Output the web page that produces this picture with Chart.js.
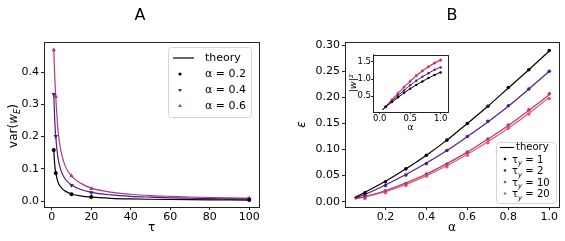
<!DOCTYPE html>
<html><head><meta charset="utf-8">
<script src="https://cdn.jsdelivr.net/npm/chart.js@4.4.1/dist/chart.umd.min.js"></script>
<style>
html,body{margin:0;padding:0;background:#fff;width:565px;height:241px;overflow:hidden;}
canvas{position:absolute;display:block;}
</style></head><body>
<canvas id="ca" width="280" height="241" style="left:0;top:0"></canvas>
<canvas id="cb" width="285" height="241" style="left:280px;top:0"></canvas>
<canvas id="ci" width="112" height="90" style="left:340px;top:46px"></canvas>
<script>
// ---------- Panel A data ----------
const tauPoints = [1, 2, 10, 20, 100];
const varA02 = [0.158, 0.087, 0.021, 0.0125, 0.003];
const varA04 = [0.331, 0.201, 0.049, 0.026, 0.006];
const varA06 = [0.469, 0.324, 0.078, 0.0386, 0.009];
const tauTheory = [1, 1.5, 2, 3, 4, 5, 7, 10, 15, 20, 30, 40, 50, 60, 70, 80, 90, 100];
const thA02 = [0.158, 0.112, 0.088, 0.061, 0.048, 0.040, 0.030, 0.022, 0.0155, 0.0121, 0.0085, 0.0066, 0.0055, 0.0047, 0.0041, 0.0036, 0.0033, 0.0030];
const thA04 = [0.331, 0.250, 0.200, 0.140, 0.108, 0.089, 0.066, 0.050, 0.035, 0.027, 0.019, 0.0145, 0.012, 0.010, 0.0087, 0.0076, 0.0068, 0.006];
const thA06 = [0.468, 0.385, 0.325, 0.230, 0.178, 0.145, 0.106, 0.077, 0.054, 0.040, 0.0275, 0.021, 0.017, 0.0145, 0.0125, 0.011, 0.0099, 0.009];
const xTicksA = [0, 20, 40, 60, 80, 100];
const yTicksA = [0.0, 0.1, 0.2, 0.3, 0.4];
const legendA = ['theory', 'α = 0.2', 'α = 0.4', 'α = 0.6'];

// ---------- Panel B data ----------
const alphaPoints = [0.1, 0.2, 0.3, 0.4, 0.5, 0.6, 0.7, 0.8, 0.9, 1.0];
const epsT1 = [0.017, 0.038, 0.063, 0.089, 0.118, 0.150, 0.183, 0.219, 0.253, 0.290];
const epsT2 = [0.013, 0.031, 0.051, 0.073, 0.098, 0.125, 0.154, 0.184, 0.216, 0.250];
const epsT10 = [0.009, 0.021, 0.035, 0.053, 0.072, 0.095, 0.120, 0.147, 0.176, 0.207];
const epsT20 = [0.006, 0.017, 0.031, 0.049, 0.067, 0.089, 0.113, 0.141, 0.168, 0.198];
const alphaTheory = [0.05, 0.1, 0.2, 0.3, 0.4, 0.5, 0.6, 0.7, 0.8, 0.9, 1.0];
const thB1 = [0.008, 0.018, 0.039, 0.063, 0.089, 0.118, 0.150, 0.183, 0.218, 0.253, 0.289];
const thB2 = [0.007, 0.014, 0.032, 0.052, 0.074, 0.098, 0.125, 0.153, 0.183, 0.216, 0.250];
const thB10 = [0.006, 0.010, 0.021, 0.036, 0.053, 0.073, 0.095, 0.120, 0.146, 0.175, 0.205];
const thB20 = [0.005, 0.009, 0.019, 0.033, 0.050, 0.069, 0.091, 0.115, 0.141, 0.169, 0.200];
const xTicksB = [0.2, 0.4, 0.6, 0.8, 1.0];
const yTicksB = [0.00, 0.05, 0.10, 0.15, 0.20, 0.25, 0.30];
const legendB = ['theory', '1', '2', '10', '20'];

// ---------- Inset data (|w|^2 vs alpha) ----------
const wT1 = [0.19, 0.33, 0.47, 0.60, 0.72, 0.83, 0.93, 1.03, 1.12, 1.19];
const wT2 = [0.20, 0.36, 0.52, 0.67, 0.82, 0.95, 1.07, 1.17, 1.27, 1.34];
const wT10 = [0.21, 0.39, 0.58, 0.76, 0.93, 1.09, 1.23, 1.35, 1.46, 1.54];
const wT20 = [0.21, 0.40, 0.60, 0.78, 0.95, 1.11, 1.25, 1.37, 1.48, 1.57];
const thW1 = [0.11, 0.19, 0.33, 0.46, 0.60, 0.72, 0.83, 0.93, 1.03, 1.12, 1.20];
const thW2 = [0.11, 0.20, 0.36, 0.52, 0.67, 0.82, 0.95, 1.07, 1.17, 1.27, 1.35];
const thW10 = [0.11, 0.21, 0.39, 0.58, 0.76, 0.93, 1.09, 1.23, 1.35, 1.46, 1.55];
const thW20 = [0.11, 0.21, 0.40, 0.60, 0.78, 0.95, 1.11, 1.25, 1.37, 1.48, 1.57];
const xTicksI = [0.0, 0.5, 1.0];
const yTicksI = [0.5, 1.0, 1.5];

// ---------- colours ----------
const C_BLACK = '#000000';
const C_PURPLE_A = '#4b1b8a';
const C_MAGENTA_A = '#b5387c';
const C_PURPLE = '#561c88';
const C_MAGENTA = '#b3367c';
const C_RED = '#ec585c';

const FONT = '"DejaVu Sans", sans-serif';
Chart.defaults.font.family = FONT;
Chart.defaults.color = '#000';
Chart.defaults.animation = false;

const pts = (xs, ys) => xs.map((x, i) => ({x: x, y: ys[i]}));

function fontFor(p, size) {
  const s = (p.sub || p.sup) ? size * 0.7 : size;
  return (p.i ? 'italic ' : '') + s + 'px ' + FONT;
}
function drawRich(ctx, parts, x, y, size, align) {
  let w = 0;
  parts.forEach(p => { ctx.font = fontFor(p, size); p.w = ctx.measureText(p.t).width; w += p.w; });
  let cx = align === 'center' ? x - w / 2 : x;
  ctx.textAlign = 'left';
  ctx.textBaseline = 'alphabetic';
  parts.forEach(p => {
    ctx.font = fontFor(p, size);
    ctx.fillText(p.t, cx, y + (p.sub ? size * 0.28 : 0) + (p.sup ? -size * 0.4 : 0));
    cx += p.w;
  });
}
function drawMarker(ctx, style, x, y, r, color) {
  ctx.save();
  ctx.fillStyle = color; ctx.strokeStyle = color;
  ctx.beginPath();
  if (style === 'circle') { ctx.arc(x, y, r, 0, Math.PI * 2); }
  else if (style === 'tri') { ctx.moveTo(x, y - r); ctx.lineTo(x + r * 0.87, y + r * 0.5); ctx.lineTo(x - r * 0.87, y + r * 0.5); ctx.closePath(); }
  else if (style === 'trid') { ctx.moveTo(x, y + r); ctx.lineTo(x + r * 0.87, y - r * 0.5); ctx.lineTo(x - r * 0.87, y - r * 0.5); ctx.closePath(); }
  ctx.fill();
  ctx.restore();
}
function roundRect(ctx, x, y, w, h, r) {
  ctx.beginPath();
  ctx.moveTo(x + r, y); ctx.lineTo(x + w - r, y); ctx.quadraticCurveTo(x + w, y, x + w, y + r);
  ctx.lineTo(x + w, y + h - r); ctx.quadraticCurveTo(x + w, y + h, x + w - r, y + h);
  ctx.lineTo(x + r, y + h); ctx.quadraticCurveTo(x, y + h, x, y + h - r);
  ctx.lineTo(x, y + r); ctx.quadraticCurveTo(x, y, x + r, y); ctx.closePath();
}

const framePlugin = {
  id: 'frame',
  beforeDatasetsDraw(chart, args, opts) {
    if (!opts.fill) return;
    const a = chart.chartArea, ctx = chart.ctx;
    ctx.save(); ctx.fillStyle = '#fff';
    ctx.fillRect(a.left, a.top, a.right - a.left, a.bottom - a.top);
    ctx.restore();
  },
  afterDraw(chart, args, opts) {
    const a = chart.chartArea, ctx = chart.ctx;
    ctx.save();
    ctx.strokeStyle = '#222'; ctx.lineWidth = 1;
    ctx.strokeRect(Math.round(a.left) + 0.5, Math.round(a.top) + 0.5, Math.round(a.right - a.left), Math.round(a.bottom - a.top));
    ctx.restore();
    if (opts.extra) opts.extra(chart, ctx);
  }
};

function scaleOpts(min, max, ticks, dec, size, fitProp, fitVal, pad, tl) {
  return {
    type: 'linear', min: min, max: max,
    afterBuildTicks: s => { s.ticks = ticks.map(v => ({value: v})); },
    afterFit: s => { s[fitProp] = fitVal; },
    ticks: { font: {size: size}, color: '#000', padding: pad, callback: v => Number(v).toFixed(dec), maxRotation: 0, autoSkip: false },
    grid: { drawOnChartArea: false, drawTicks: true, tickLength: tl || 3, color: '#222', lineWidth: 1 },
    border: { display: true, color: '#222', width: 1 }
  };
}

function lineDs(xs, ys, color, w) {
  return { type: 'line', data: pts(xs, ys), borderColor: color, backgroundColor: color, borderWidth: w || 1.2,
           pointRadius: 0, showLine: true, cubicInterpolationMode: 'monotone', fill: false };
}
function ptDs(xs, ys, color, style, r, rot) {
  return { type: 'scatter', data: pts(xs, ys), borderColor: color, backgroundColor: color, pointStyle: style,
           pointRadius: r, pointRotation: rot || 0, borderWidth: 0, showLine: false };
}

// ---------- Chart A ----------
new Chart(document.getElementById('ca'), {
  type: 'scatter',
  data: { datasets: [
    ptDs(tauPoints, varA02, C_BLACK, 'circle', 2),
    ptDs(tauPoints, varA04, C_PURPLE_A, 'triangle', 2.6, 180),
    ptDs(tauPoints, varA06, C_MAGENTA_A, 'triangle', 2.6),
    lineDs(tauTheory, thA02, C_BLACK),
    lineDs(tauTheory, thA04, C_PURPLE_A),
    lineDs(tauTheory, thA06, C_MAGENTA_A)
  ]},
  options: {
    responsive: false, animation: false,
    layout: { padding: { left: 0, right: 21, top: 42, bottom: 0 } },
    plugins: {
      legend: { display: false }, tooltip: { enabled: false },
      frame: { extra: (chart, ctx) => {
        ctx.save();
        ctx.fillStyle = '#000';
        ctx.font = '16px ' + FONT; ctx.textAlign = 'center'; ctx.textBaseline = 'middle';
        ctx.fillText('A', 140, 16);
        // y title
        ctx.translate(13, 126); ctx.rotate(-Math.PI / 2);
        ctx.fillStyle = '#000';
        drawRich(ctx, [{t: 'var('}, {t: 'w', i: true}, {t: 'E', i: true, sub: true}, {t: ')'}], 0, 4, 12, 'center');
        ctx.restore();
        // legend
        ctx.save();
        roundRect(ctx, 168.5, 47.5, 83, 70, 3);
        ctx.fillStyle = 'rgba(255,255,255,0.85)'; ctx.fill();
        ctx.strokeStyle = '#d6d6d6'; ctx.lineWidth = 1; ctx.stroke();
        const rows = [58, 74, 90, 106];
        ctx.strokeStyle = '#000'; ctx.lineWidth = 1.2;
        ctx.beginPath(); ctx.moveTo(173, rows[0]); ctx.lineTo(194, rows[0]); ctx.stroke();
        drawMarker(ctx, 'circle', 180, rows[1], 1.6, C_BLACK);
        drawMarker(ctx, 'trid', 180, rows[2], 2.2, C_PURPLE_A);
        drawMarker(ctx, 'tri', 180, rows[3], 2.2, C_MAGENTA_A);
        ctx.fillStyle = '#000'; ctx.font = '11px ' + FONT; ctx.textAlign = 'left'; ctx.textBaseline = 'middle';
        legendA.forEach((t, i) => ctx.fillText(t, 205, rows[i]));
        ctx.restore();
      } }
    },
    scales: {
      x: Object.assign(scaleOpts(-3.95, 104.95, xTicksA, 0, 11, 'height', 34, 1), {
        title: { display: true, text: 'τ', font: {size: 12}, color: '#000', padding: {top: 0, bottom: 6} } }),
      y: scaleOpts(-0.0185, 0.4935, yTicksA, 1, 11, 'width', 44, 2)
    }
  },
  plugins: [framePlugin]
});

// ---------- Chart B ----------
new Chart(document.getElementById('cb'), {
  type: 'scatter',
  data: { datasets: [
    ptDs(alphaPoints, epsT1, C_BLACK, 'circle', 1.8),
    ptDs(alphaPoints, epsT2, C_PURPLE, 'circle', 1.8),
    ptDs(alphaPoints, epsT10, C_MAGENTA, 'circle', 1.8),
    ptDs(alphaPoints, epsT20, C_RED, 'circle', 1.8),
    lineDs(alphaTheory, thB1, C_BLACK),
    lineDs(alphaTheory, thB2, C_PURPLE),
    lineDs(alphaTheory, thB10, C_MAGENTA),
    lineDs(alphaTheory, thB20, C_RED)
  ]},
  options: {
    responsive: false, animation: false,
    layout: { padding: { left: 0, right: 6, top: 42, bottom: 0 } },
    plugins: {
      legend: { display: false }, tooltip: { enabled: false },
      frame: { extra: (chart, ctx) => {
        ctx.save();
        ctx.fillStyle = '#000';
        ctx.font = '16px ' + FONT; ctx.textAlign = 'center'; ctx.textBaseline = 'middle';
        ctx.fillText('B', 172, 16);
        // legend
        roundRect(ctx, 216.5, 142.5, 60, 61, 3);
        ctx.fillStyle = 'rgba(255,255,255,0.85)'; ctx.fill();
        ctx.strokeStyle = '#d6d6d6'; ctx.lineWidth = 1; ctx.stroke();
        const rows = [147.5, 159, 170.5, 182, 193.5];
        const cols = [C_BLACK, C_PURPLE, C_MAGENTA, C_RED];
        ctx.strokeStyle = '#000'; ctx.lineWidth = 1.1;
        ctx.beginPath(); ctx.moveTo(220, rows[0]); ctx.lineTo(234, rows[0]); ctx.stroke();
        ctx.fillStyle = '#000'; ctx.font = '10px ' + FONT; ctx.textAlign = 'left'; ctx.textBaseline = 'middle';
        ctx.fillText(legendB[0], 236, rows[0]);
        for (let i = 1; i < 5; i++) {
          drawMarker(ctx, 'circle', 225, rows[i], 1.3, cols[i - 1]);
          ctx.fillStyle = '#000';
          drawRich(ctx, [{t: 'τ'}, {t: 'y', i: true, sub: true}, {t: ' = ' + legendB[i]}], 232, rows[i] + 3.5, 10, 'left');
        }
        ctx.restore();
      } }
    },
    scales: {
      x: Object.assign(scaleOpts(0.0025, 1.0475, xTicksB, 1, 11, 'height', 34, 1), {
        title: { display: true, text: 'α', font: {size: 12}, color: '#000', padding: {top: 0, bottom: 6} } }),
      y: Object.assign(scaleOpts(-0.0102, 0.3062, yTicksB, 2, 11, 'width', 65, 2), {
        title: { display: true, text: 'ε', font: {size: 12, style: 'italic'}, color: '#000', padding: {top: 15, bottom: 0} } })
    }
  },
  plugins: [framePlugin]
});

// ---------- Inset ----------
new Chart(document.getElementById('ci'), {
  type: 'scatter',
  data: { datasets: [
    ptDs(alphaPoints, wT1, C_BLACK, 'circle', 1.2),
    ptDs(alphaPoints, wT2, C_PURPLE, 'circle', 1.2),
    ptDs(alphaPoints, wT10, C_MAGENTA, 'circle', 1.2),
    ptDs(alphaPoints, wT20, C_RED, 'circle', 1.2),
    lineDs(alphaTheory, thW1, C_BLACK, 1),
    lineDs(alphaTheory, thW2, C_PURPLE, 1),
    lineDs(alphaTheory, thW10, C_MAGENTA, 1),
    lineDs(alphaTheory, thW20, C_RED, 1)
  ]},
  options: {
    responsive: false, animation: false,
    layout: { padding: { left: 0, right: 2, top: 8.7, bottom: 0 } },
    plugins: { legend: { display: false }, tooltip: { enabled: false }, frame: { fill: true } },
    scales: {
      x: Object.assign(scaleOpts(-0.11, 1.12, xTicksI, 1, 8.5, 'height', 24, 0, 2), {
        title: { display: true, text: 'α', font: {size: 9.5}, color: '#000', padding: {top: 0, bottom: 3} } }),
      y: Object.assign(scaleOpts(0.04, 1.71, yTicksI, 1, 8.5, 'width', 33, 0, 2), {
        title: { display: true, text: '|w|²', font: {size: 9.5, style: 'italic'}, color: '#000', padding: {top: 8, bottom: 0} } })
    }
  },
  plugins: [framePlugin]
});
</script>
</body></html>
